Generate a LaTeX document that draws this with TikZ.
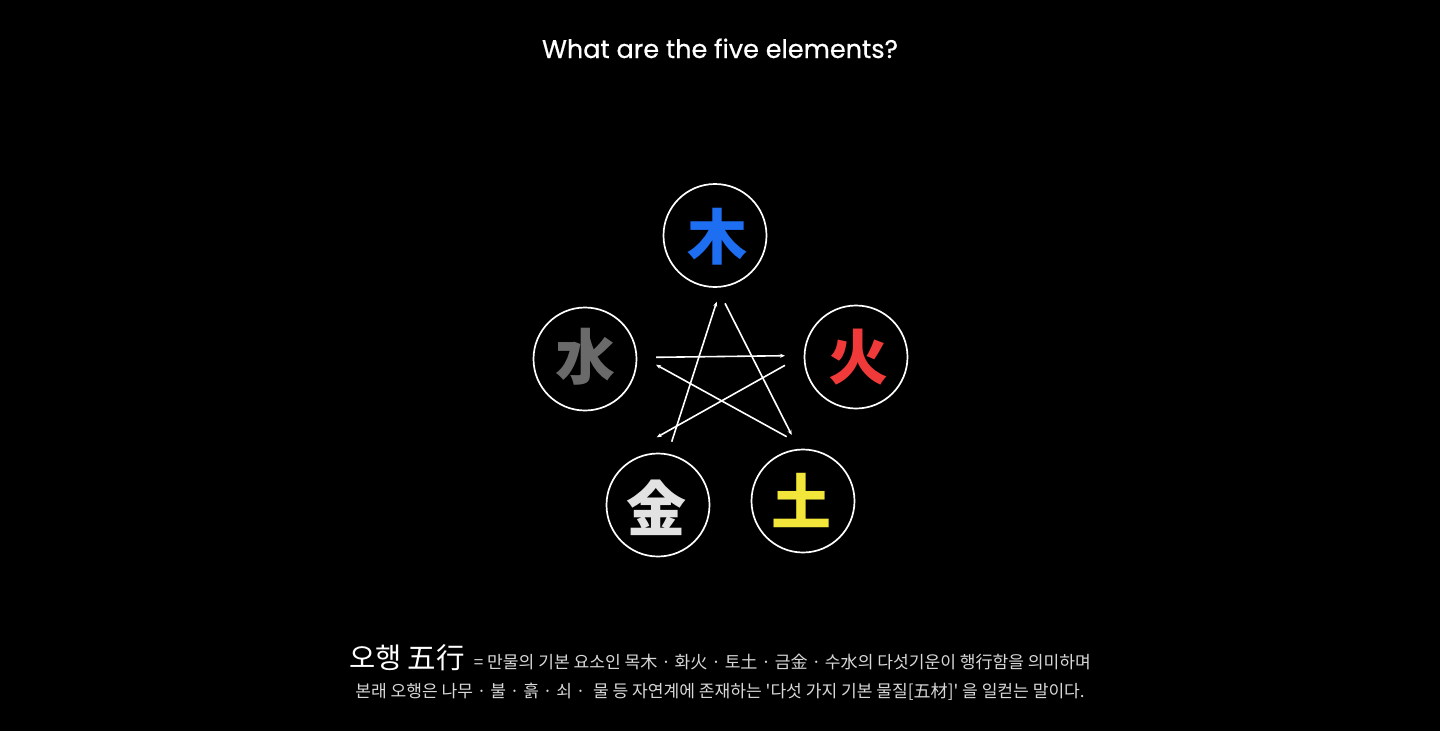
\documentclass[tikz,border=0pt]{standalone}
\usepackage{fontspec}
\usetikzlibrary{arrows.meta}
\newfontfamily\titlefont{Poppins}[FakeBold=0.6]
\newfontfamily\kr{Noto Sans CJK KR}
\definecolor{woodc}{HTML}{1E6EF2}
\definecolor{firec}{HTML}{F03A3A}
\definecolor{earthc}{HTML}{F2E63A}
\definecolor{metalc}{HTML}{E2E2E2}
\definecolor{waterc}{HTML}{6A6A6A}
\definecolor{bodyc}{HTML}{D8D8D8}
\tikzset{
  ring/.style={circle, draw=white, line width=1.7pt, minimum size=103pt, inner sep=0pt},
  elem/.style={font=\kr\bfseries\fontsize{60}{64}\selectfont, inner sep=0pt},
  starline/.style={draw=white, line width=1.6pt, -{Stealth[length=5pt,width=4pt]}},
}
\begin{document}
\begin{tikzpicture}[x=1pt,y=-1pt]
\fill[black] (0,0) rectangle (1440,731);
\useasboundingbox (0,0) rectangle (1440,731);

\node[anchor=base, text=white, font=\titlefont\fontsize{25.5}{30}\selectfont] (title) at (720,58) {What are the five elements?};

% circles
\node[ring] (wood) at (715,235.5) {};
\node[ring] (fire) at (856,357) {};
\node[ring] (earth) at (803,501) {};
\node[ring] (metal) at (658,505) {};
\node[ring] (water) at (585,359) {};

\node[elem, text=woodc] (woodt) at (717,237) {木};
\node[elem, text=firec] (firet) at (858,357) {火};
\node[elem, text=earthc] (eartht) at (801,500) {土};
\node[elem, text=metalc] (metalt) at (656,508) {金};
\node[elem, text=waterc] (watert) at (585,357) {水};

% star
\coordinate (a1) at (671.7,441.7);
\coordinate (a2) at (716.7,301.7);
\coordinate (b1) at (725,303.3);
\coordinate (b2) at (791.7,435);
\coordinate (c1) at (656,357.3);
\coordinate (c2) at (785,355.7);
\coordinate (d1) at (785,365.3);
\coordinate (d2) at (656.7,437.3);
\coordinate (e1) at (786.7,436.7);
\coordinate (e2) at (656,364.7);
\draw[starline] (a1) -- (a2);
\draw[starline] (b1) -- (b2);
\draw[starline] (c1) -- (c2);
\draw[starline] (d1) -- (d2);
\draw[starline] (e1) -- (e2);

% text
\node[anchor=base, inner sep=0pt, font=\kr] (line1) at (720,668) {{\color{white}\fontsize{28.5}{34}\selectfont 오행 五行}\hspace{9pt}{\color{bodyc}\fontsize{17.1}{21}\selectfont = 만물의 기본 요소인 목木 · 화火 · 토土 · 금金 · 수水의 다섯기운이 행行함을 의미하며}};
\node[anchor=base, inner sep=0pt, text=bodyc, font=\kr\fontsize{17.1}{21}\selectfont] (line2) at (720,697) {본래 오행은 나무 · 불 · 흙 · 쇠 ·\ \ 물 등 자연계에 존재하는 '다섯 가지 기본 물질[五材]' 을 일컫는 말이다.};
\end{tikzpicture}
\end{document}
